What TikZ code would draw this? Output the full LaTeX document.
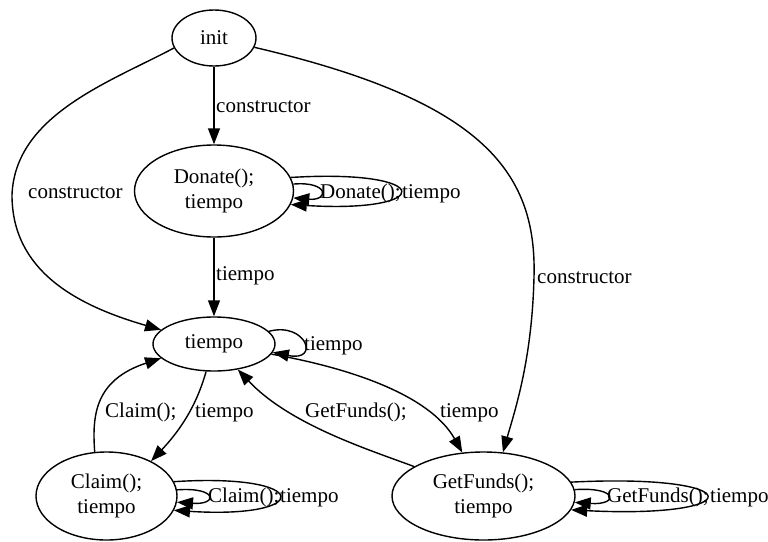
\documentclass[tikz,border=0pt]{standalone}
\usepackage{fontspec}
\setmainfont{Liberation Serif}
\usetikzlibrary{arrows.meta,shapes.geometric}
\begin{document}
\begin{tikzpicture}[x=1pt,y=-1pt,
  state/.style={ellipse, draw, line width=1.4pt, inner sep=0pt, align=center,
                font=\fontsize{21}{24.5}\selectfont},
  edge/.style={line width=1.4pt, -{Triangle[length=16pt,width=12pt]}},
  lbl/.style={anchor=base west, inner sep=0pt, font=\fontsize{21}{24.5}\selectfont}]
\useasboundingbox (0,0) rectangle (768,541);

% states
\node[state, minimum width=84pt,  minimum height=56pt] (init) at (214,38)    {init};
\node[state, minimum width=159pt, minimum height=92pt] (don)  at (214,191)   {Donate();\\tiempo};
\node[state, minimum width=122pt, minimum height=54pt] (tie)  at (214,344)   {tiempo};
\node[state, minimum width=141pt, minimum height=88pt] (cla)  at (106.5,496) {Claim();\\tiempo};
\node[state, minimum width=183pt, minimum height=88pt] (get)  at (483.5,496) {GetFunds();\\tiempo};

% transitions from init
\draw[edge] (init) -- (don);
\node[lbl] (l-c1) at (216,112) {constructor};
\draw[edge] (init.194) .. controls (110,82) and (15,115) .. (12,195)
                      .. controls (12,270) and (75,305) .. (tie.165);
\node[lbl] (l-c2) at (28,198) {constructor};
\draw[edge] (init.-13) .. controls (480,100) and (537,170) .. (534,277)
                      .. controls (532,360) and (515,410) .. (get.66);
\node[lbl] (l-c3) at (537,283) {constructor};

% Donate
\draw[edge] (don) -- (tie);
\node[lbl] (l-d1) at (216,280) {tiempo};
\draw[edge] (don.10) .. controls +(146,-9) and +(145,9) .. (don.-10);
\draw[edge] (don.5) .. controls +(36,-3) and +(36,3) .. (don.-5);
\node[lbl] (l-d2) at (320,198) {Donate();};
\node[lbl] (l-d3) at (402,198) {tiempo};

% tiempo
\draw[edge] (tie.13) .. controls +(37,-10) and +(48,10) .. (tie.-8);
\node[lbl] (l-t1) at (304,350) {tiempo};
\draw[edge] (tie.-106) .. controls (198,400) and (185,425) .. (cla.38);
\node[lbl] (l-t2) at (195,417) {tiempo};
\draw[edge] (tie.-10) .. controls (350,368) and (430,395) .. (get.116);
\node[lbl] (l-t3) at (440,417) {tiempo};

% Claim
\draw[edge] (cla.105) .. controls (92,415) and (95,380) .. (tie.195);
\node[lbl] (l-k1) at (105,417) {Claim();};
\draw[edge] (cla.12) .. controls +(140,-9) and +(140,9) .. (cla.-12);
\draw[edge] (cla.5) .. controls +(41,-3) and +(41,3) .. (cla.-5);
\node[lbl] (l-k2) at (208,502) {Claim();};
\node[lbl] (l-k3) at (280,502) {tiempo};

% GetFunds
\draw[edge] (get.157) .. controls (370,450) and (290,425) .. (tie.-47);
\node[lbl] (l-g1) at (305,417) {GetFunds();};
\draw[edge] (get.9) .. controls +(180,-9) and +(180,9) .. (get.-9);
\draw[edge] (get.4) .. controls +(44,-3) and +(44,3) .. (get.-4);
\node[lbl] (l-g2) at (607,502) {GetFunds();};
\node[lbl] (l-g3) at (710,502) {tiempo};
\end{tikzpicture}
\end{document}
